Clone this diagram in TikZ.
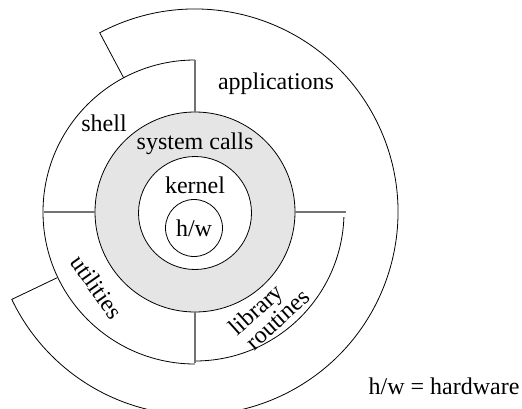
\documentclass[tikz,border=0pt]{standalone}
\usepackage{fontspec}
\setmainfont{Liberation Serif}
\begin{document}
\begin{tikzpicture}[x=1pt,y=1pt,
  arcline/.style={line width=0.8pt, draw=black},
  divider/.style={line width=1.2pt, draw=black!55},
  lbl/.style={font=\fontsize{24}{25}\selectfont, inner sep=0pt, align=center}]
\useasboundingbox (0,0) rectangle (522,408);
\clip (0,0) rectangle (522,408);
\begin{scope}[shift={(195,196)}]
  % system calls ring
  \filldraw[arcline, fill=black!10] (0,0) circle (100);
  % kernel
  \filldraw[arcline, fill=white] (0,-1) circle (56.5);
  % hardware
  \filldraw[arcline, fill=white] (-1,-16) circle (28.5);
  % shell / utilities outer arc
  \draw[arcline] (90:152) arc (90:270:152);
  % library routines outer arc
  \draw[arcline] (-2:149) arc (-2:-90:149);
  % dividers
  \draw[divider] (90:100) -- (90:152);
  \draw[divider] (180:100) -- (180:151);
  \draw[divider] (0:100) -- (0:151);
  \draw[divider] (270:100) -- (270:151);
  % applications
  \draw[arcline] (118:152) -- (118:203) arc (118:-154.5:203) -- (205.5:153);
\end{scope}
\node[lbl] (apps) at (276,324) {applications};
\node[lbl] (shell) at (104,285) {shell};
\node[lbl] (sys) at (195,264) {system calls};
\node[lbl] (kern) at (195,223) {kernel};
\node[lbl] (hw) at (194,180) {h/w};
\node[lbl, rotate=-55] (util) at (97,121) {utilities};
\begin{scope}[shift={(268,92)}, rotate=42]
  \node[lbl, anchor=base west, rotate=42] (lib) at (-37,5) {library};
  \node[lbl, anchor=base west, rotate=42] (rout) at (-34,-17) {routines};
\end{scope}
\node[lbl] (legend) at (444,22) {h/w = hardware};
\end{tikzpicture}
\end{document}
